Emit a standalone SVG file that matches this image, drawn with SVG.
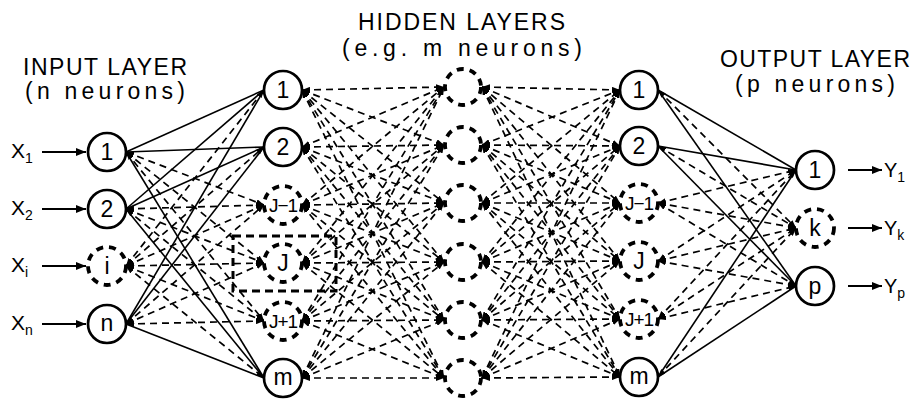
<svg xmlns="http://www.w3.org/2000/svg" width="914" height="403" viewBox="0 0 914 403">
<style>
text{font-family:"Liberation Sans",Arial,sans-serif;fill:#000}
.t{font-size:23px}
.nl{font-size:23px;text-anchor:middle}
.ns{font-size:19px;text-anchor:middle;letter-spacing:-1px}
.sub{font-size:14px}
circle{fill:#fff;stroke:#000}
.sc{stroke-width:2.7}
.dc{stroke-width:3.8;stroke-dasharray:7 6}
#conn line{stroke:#000}
#conn .s line{stroke-width:1.6}
#conn .d line{stroke-width:1.7;stroke-dasharray:7 5;marker-start:url(#ah);marker-end:url(#ah)}
#io line{stroke:#000;stroke-width:1.8;marker-end:url(#big)}
</style>
<defs>
<marker id="ah" viewBox="0 0 8 6" refX="8" refY="3" markerWidth="8" markerHeight="6" markerUnits="userSpaceOnUse" orient="auto-start-reverse"><path d="M0,0 L8,3 L0,6 z" fill="#000"/></marker>
<marker id="big" viewBox="0 0 10 8" refX="10" refY="4" markerWidth="10" markerHeight="8" markerUnits="userSpaceOnUse" orient="auto"><path d="M0,0 L10,4 L0,8 z" fill="#000"/></marker>
</defs>
<rect width="914" height="403" fill="#fff"/>

<g id="labels">
<text class="t" x="23" y="75" textLength="164" lengthAdjust="spacing">INPUT LAYER</text>
<text class="t" x="25" y="99" textLength="160" lengthAdjust="spacing">(n  neurons)</text>
<text class="t" x="358" y="30" textLength="207" lengthAdjust="spacing">HIDDEN LAYERS</text>
<text class="t" x="342" y="56" textLength="240" lengthAdjust="spacing">(e.g.  m  neurons)</text>
<text class="t" x="720" y="67" textLength="190" lengthAdjust="spacing">OUTPUT LAYER</text>
<text class="t" x="735" y="92" textLength="160" lengthAdjust="spacing">(p  neurons)</text>
</g>

<g id="conn">
<g class="s">
<line x1="126" y1="152" x2="264" y2="90"/><line x1="126" y1="152" x2="264" y2="147"/><line x1="126" y1="152" x2="264" y2="378"/>
<line x1="126" y1="209" x2="264" y2="90"/><line x1="126" y1="209" x2="264" y2="147"/><line x1="126" y1="209" x2="264" y2="378"/>
<line x1="126" y1="324" x2="264" y2="90"/><line x1="126" y1="324" x2="264" y2="147"/><line x1="126" y1="324" x2="264" y2="378"/>
<line x1="658" y1="90" x2="796" y2="170"/><line x1="658" y1="90" x2="796" y2="286"/>
<line x1="658" y1="146" x2="796" y2="170"/><line x1="658" y1="146" x2="796" y2="286"/>
<line x1="658" y1="377" x2="796" y2="170"/><line x1="658" y1="377" x2="796" y2="286"/>
</g>
<g class="d">
<line x1="126" y1="152" x2="264" y2="205"/><line x1="126" y1="152" x2="264" y2="263"/><line x1="126" y1="152" x2="264" y2="321"/>
<line x1="126" y1="209" x2="264" y2="205"/><line x1="126" y1="209" x2="264" y2="263"/><line x1="126" y1="209" x2="264" y2="321"/>
<line x1="126" y1="266" x2="264" y2="90"/><line x1="126" y1="266" x2="264" y2="147"/><line x1="126" y1="266" x2="264" y2="205"/><line x1="126" y1="266" x2="264" y2="263"/><line x1="126" y1="266" x2="264" y2="321"/><line x1="126" y1="266" x2="264" y2="378"/>
<line x1="126" y1="324" x2="264" y2="205"/><line x1="126" y1="324" x2="264" y2="263"/><line x1="126" y1="324" x2="264" y2="321"/>

<line x1="302" y1="90" x2="444" y2="87"/><line x1="302" y1="90" x2="444" y2="145"/><line x1="302" y1="90" x2="444" y2="203"/><line x1="302" y1="90" x2="444" y2="262"/><line x1="302" y1="90" x2="444" y2="320"/><line x1="302" y1="90" x2="444" y2="378"/>
<line x1="302" y1="147" x2="444" y2="87"/><line x1="302" y1="147" x2="444" y2="145"/><line x1="302" y1="147" x2="444" y2="203"/><line x1="302" y1="147" x2="444" y2="262"/><line x1="302" y1="147" x2="444" y2="320"/><line x1="302" y1="147" x2="444" y2="378"/>
<line x1="302" y1="205" x2="444" y2="87"/><line x1="302" y1="205" x2="444" y2="145"/><line x1="302" y1="205" x2="444" y2="203"/><line x1="302" y1="205" x2="444" y2="262"/><line x1="302" y1="205" x2="444" y2="320"/><line x1="302" y1="205" x2="444" y2="378"/>
<line x1="302" y1="263" x2="444" y2="87"/><line x1="302" y1="263" x2="444" y2="145"/><line x1="302" y1="263" x2="444" y2="203"/><line x1="302" y1="263" x2="444" y2="262"/><line x1="302" y1="263" x2="444" y2="320"/><line x1="302" y1="263" x2="444" y2="378"/>
<line x1="302" y1="321" x2="444" y2="87"/><line x1="302" y1="321" x2="444" y2="145"/><line x1="302" y1="321" x2="444" y2="203"/><line x1="302" y1="321" x2="444" y2="262"/><line x1="302" y1="321" x2="444" y2="320"/><line x1="302" y1="321" x2="444" y2="378"/>
<line x1="302" y1="378" x2="444" y2="87"/><line x1="302" y1="378" x2="444" y2="145"/><line x1="302" y1="378" x2="444" y2="203"/><line x1="302" y1="378" x2="444" y2="262"/><line x1="302" y1="378" x2="444" y2="320"/><line x1="302" y1="378" x2="444" y2="378"/>

<line x1="482" y1="87" x2="620" y2="90"/><line x1="482" y1="87" x2="620" y2="146"/><line x1="482" y1="87" x2="620" y2="203"/><line x1="482" y1="87" x2="620" y2="261"/><line x1="482" y1="87" x2="620" y2="319"/><line x1="482" y1="87" x2="620" y2="377"/>
<line x1="482" y1="145" x2="620" y2="90"/><line x1="482" y1="145" x2="620" y2="146"/><line x1="482" y1="145" x2="620" y2="203"/><line x1="482" y1="145" x2="620" y2="261"/><line x1="482" y1="145" x2="620" y2="319"/><line x1="482" y1="145" x2="620" y2="377"/>
<line x1="482" y1="203" x2="620" y2="90"/><line x1="482" y1="203" x2="620" y2="146"/><line x1="482" y1="203" x2="620" y2="203"/><line x1="482" y1="203" x2="620" y2="261"/><line x1="482" y1="203" x2="620" y2="319"/><line x1="482" y1="203" x2="620" y2="377"/>
<line x1="482" y1="262" x2="620" y2="90"/><line x1="482" y1="262" x2="620" y2="146"/><line x1="482" y1="262" x2="620" y2="203"/><line x1="482" y1="262" x2="620" y2="261"/><line x1="482" y1="262" x2="620" y2="319"/><line x1="482" y1="262" x2="620" y2="377"/>
<line x1="482" y1="320" x2="620" y2="90"/><line x1="482" y1="320" x2="620" y2="146"/><line x1="482" y1="320" x2="620" y2="203"/><line x1="482" y1="320" x2="620" y2="261"/><line x1="482" y1="320" x2="620" y2="319"/><line x1="482" y1="320" x2="620" y2="377"/>
<line x1="482" y1="378" x2="620" y2="90"/><line x1="482" y1="378" x2="620" y2="146"/><line x1="482" y1="378" x2="620" y2="203"/><line x1="482" y1="378" x2="620" y2="261"/><line x1="482" y1="378" x2="620" y2="319"/><line x1="482" y1="378" x2="620" y2="377"/>

<line x1="658" y1="90" x2="796" y2="228"/><line x1="658" y1="146" x2="796" y2="228"/>
<line x1="658" y1="203" x2="796" y2="170"/><line x1="658" y1="203" x2="796" y2="228"/><line x1="658" y1="203" x2="796" y2="286"/>
<line x1="658" y1="261" x2="796" y2="170"/><line x1="658" y1="261" x2="796" y2="228"/><line x1="658" y1="261" x2="796" y2="286"/>
<line x1="658" y1="319" x2="796" y2="170"/><line x1="658" y1="319" x2="796" y2="228"/><line x1="658" y1="319" x2="796" y2="286"/>
<line x1="658" y1="377" x2="796" y2="228"/>
</g>
</g>

<rect id="jbox" x="233" y="236" width="103" height="55" fill="none" stroke="#000" stroke-width="3" stroke-dasharray="8 5"/>

<g id="io">
<line x1="42" y1="152" x2="86" y2="152"/>
<line x1="42" y1="209" x2="86" y2="209"/>
<line x1="42" y1="266" x2="86" y2="266"/>
<line x1="42" y1="324" x2="86" y2="324"/>
<line x1="848" y1="170" x2="882" y2="170"/>
<line x1="848" y1="228" x2="882" y2="228"/>
<line x1="848" y1="286" x2="882" y2="286"/>
<text x="11" y="158" font-size="21">X<tspan class="sub" dy="5">1</tspan></text>
<text x="11" y="215" font-size="21">X<tspan class="sub" dy="5">2</tspan></text>
<text x="11" y="272" font-size="21">X<tspan class="sub" dy="5">i</tspan></text>
<text x="11" y="330" font-size="21">X<tspan class="sub" dy="5">n</tspan></text>
<text x="884" y="177" font-size="20">Y<tspan class="sub" dy="5">1</tspan></text>
<text x="884" y="235" font-size="20">Y<tspan class="sub" dy="5">k</tspan></text>
<text x="884" y="293" font-size="20">Y<tspan class="sub" dy="5">p</tspan></text>
</g>

<g id="in1"><circle class="sc" cx="107" cy="152" r="19"/><text class="nl" x="107" y="160">1</text></g>
<g id="in2"><circle class="sc" cx="107" cy="209" r="19"/><text class="nl" x="107" y="217">2</text></g>
<g id="ini"><circle class="dc" cx="107" cy="266" r="19"/><text class="nl" x="107" y="274">i</text></g>
<g id="inn"><circle class="sc" cx="107" cy="324" r="19"/><text class="nl" x="107" y="331">n</text></g>

<g id="h1_1"><circle class="sc" cx="283" cy="90" r="19"/><text class="nl" x="283" y="98">1</text></g>
<g id="h1_2"><circle class="sc" cx="283" cy="147" r="19"/><text class="nl" x="283" y="155">2</text></g>
<g id="h1_jm1"><circle class="dc" cx="283" cy="205" r="19"/><text class="ns" x="283" y="212">J−1</text></g>
<g id="h1_j"><circle class="dc" cx="283" cy="263" r="19"/><text class="nl" x="283" y="271">J</text></g>
<g id="h1_jp1"><circle class="dc" cx="283" cy="321" r="19"/><text class="ns" x="283" y="328">J+1</text></g>
<g id="h1_m"><circle class="sc" cx="283" cy="378" r="19"/><text class="nl" x="283" y="385">m</text></g>

<g id="mid1"><circle class="dc" cx="463" cy="87" r="18"/></g>
<g id="mid2"><circle class="dc" cx="463" cy="145" r="18"/></g>
<g id="mid3"><circle class="dc" cx="463" cy="203" r="18"/></g>
<g id="mid4"><circle class="dc" cx="463" cy="262" r="18"/></g>
<g id="mid5"><circle class="dc" cx="463" cy="320" r="18"/></g>
<g id="mid6"><circle class="dc" cx="463" cy="378" r="18"/></g>

<g id="h2_1"><circle class="sc" cx="639" cy="90" r="19"/><text class="nl" x="639" y="98">1</text></g>
<g id="h2_2"><circle class="sc" cx="639" cy="146" r="19"/><text class="nl" x="639" y="154">2</text></g>
<g id="h2_jm1"><circle class="dc" cx="639" cy="203" r="19"/><text class="ns" x="639" y="210">J−1</text></g>
<g id="h2_j"><circle class="dc" cx="639" cy="261" r="19"/><text class="nl" x="639" y="269">J</text></g>
<g id="h2_jp1"><circle class="dc" cx="639" cy="319" r="19"/><text class="ns" x="639" y="326">J+1</text></g>
<g id="h2_m"><circle class="sc" cx="639" cy="377" r="19"/><text class="nl" x="639" y="384">m</text></g>

<g id="out1"><circle class="sc" cx="815" cy="170" r="19"/><text class="nl" x="815" y="178">1</text></g>
<g id="outk"><circle class="dc" cx="815" cy="228" r="19"/><text class="nl" x="815" y="236">k</text></g>
<g id="outp"><circle class="sc" cx="815" cy="286" r="19"/><text class="nl" x="815" y="294">p</text></g>
</svg>
